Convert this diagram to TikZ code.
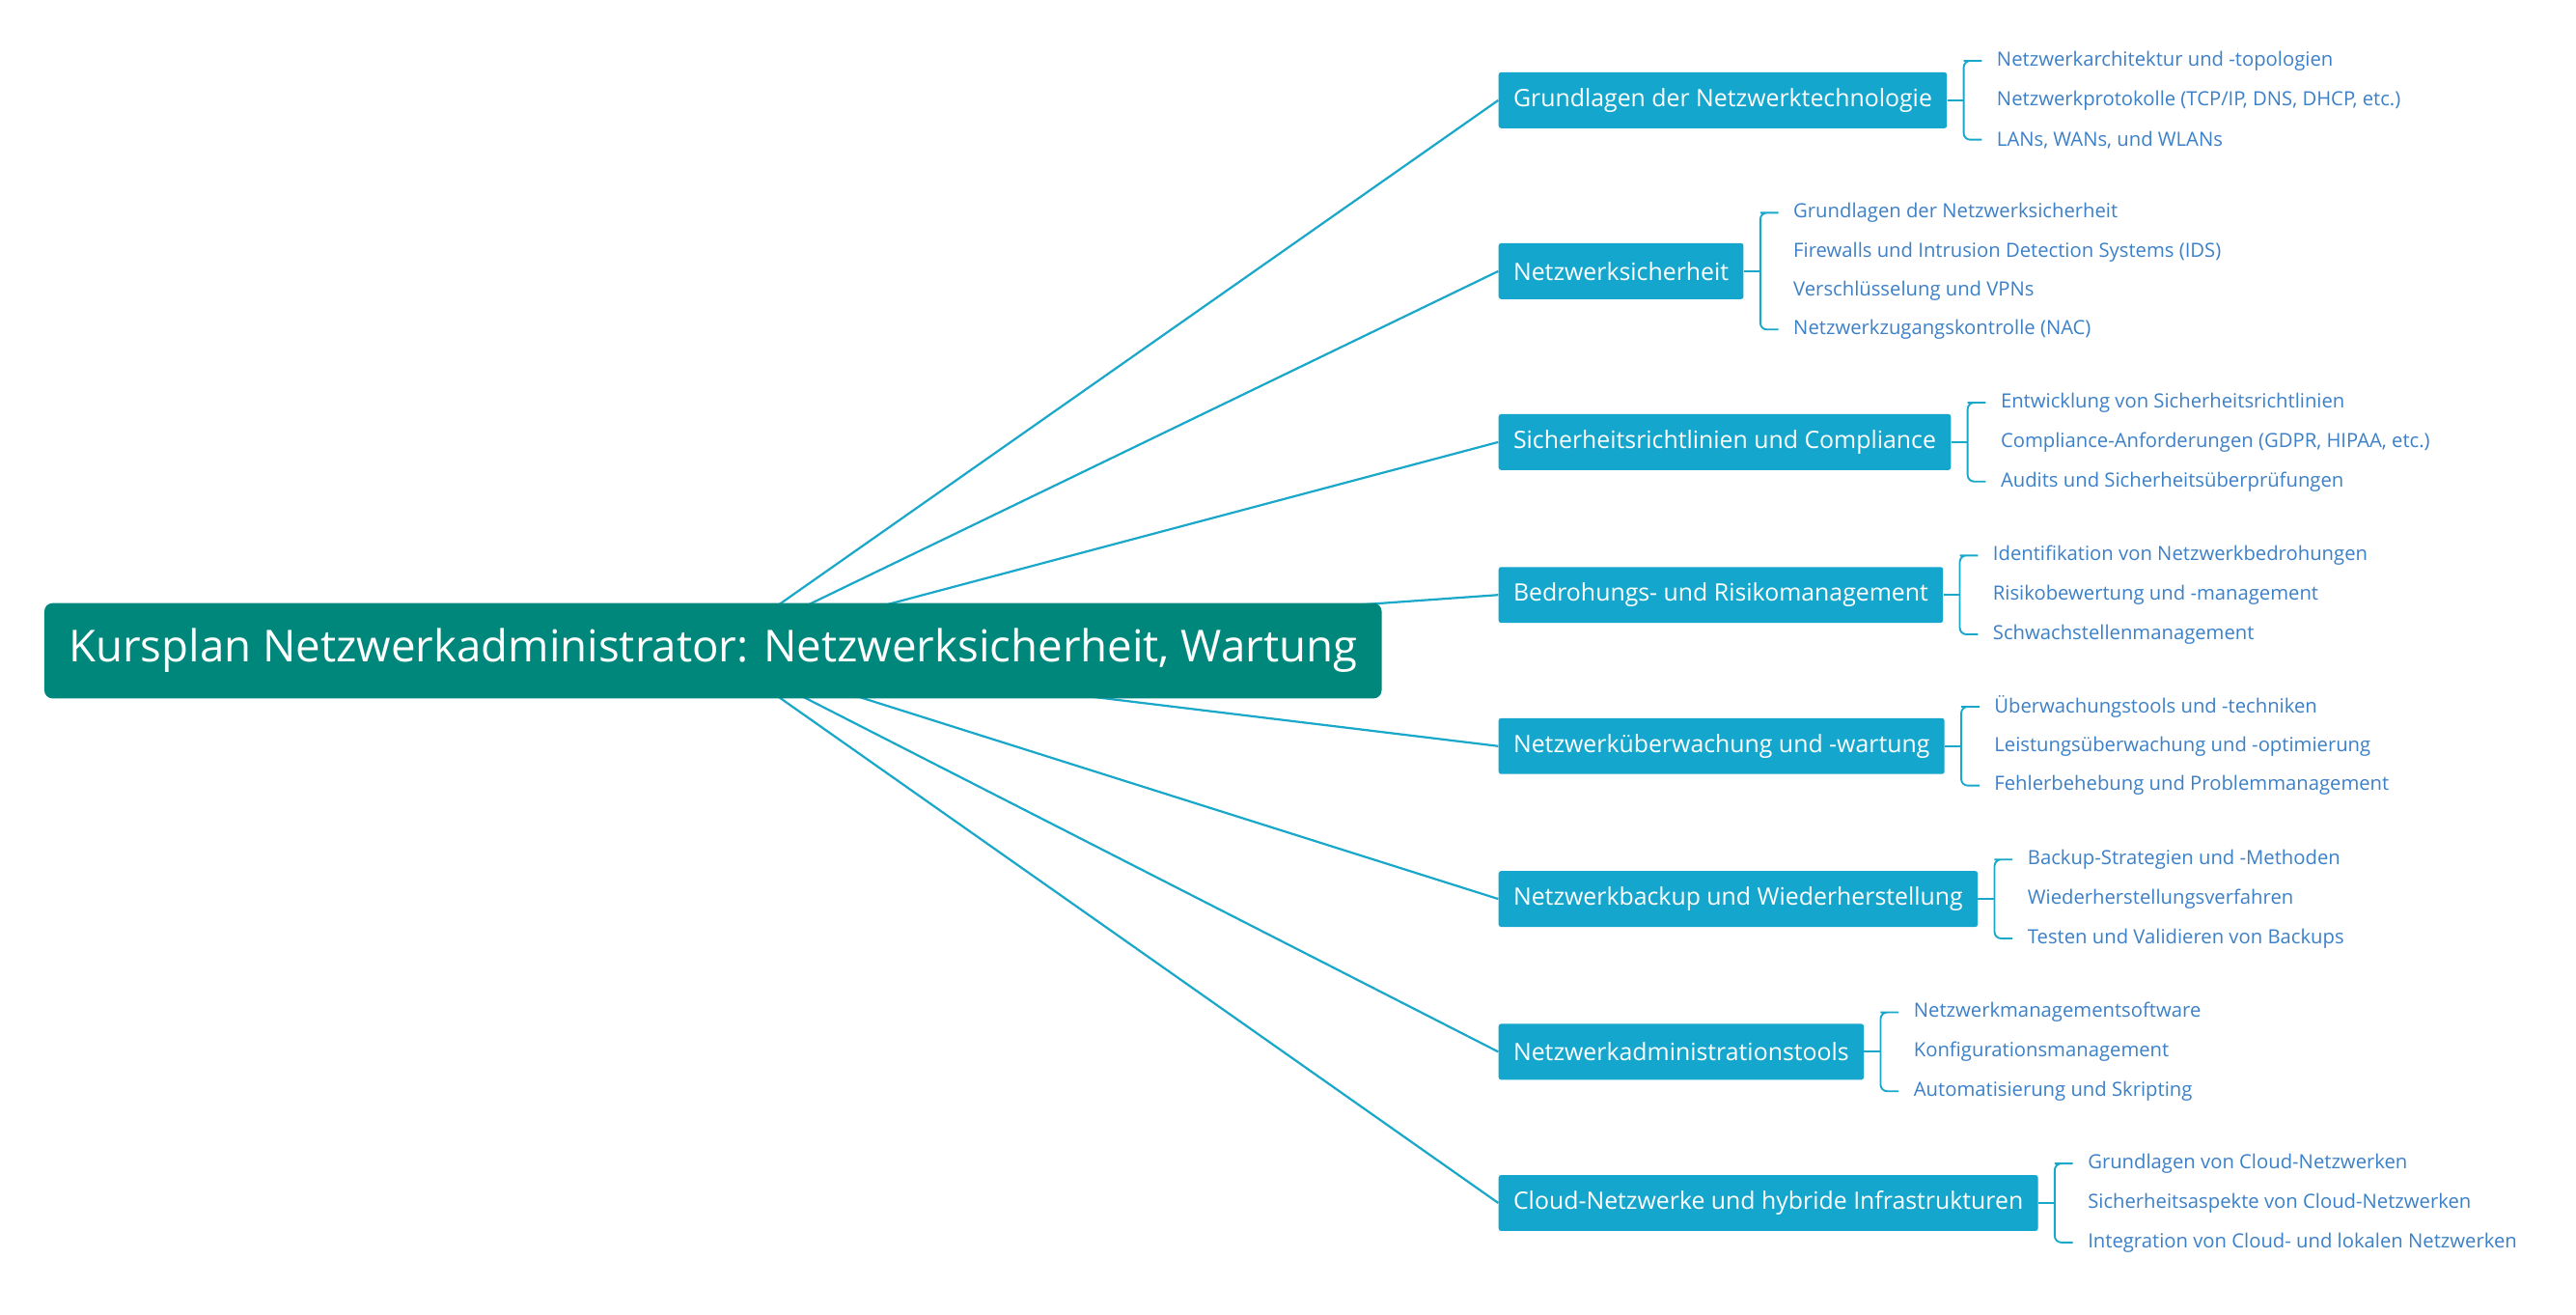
\documentclass[tikz,border=0pt]{standalone}
\usepackage{fontspec}
\setmainfont{Open Sans}
\usetikzlibrary{backgrounds,calc}
\definecolor{rootc}{HTML}{00877C}
\definecolor{brc}{HTML}{14A6CC}
\definecolor{leafc}{HTML}{3C80C8}
\definecolor{linec}{HTML}{19A8C9}
\tikzset{
 rootbox/.style={fill=rootc,text=white,rounded corners=5pt,minimum width=814pt,minimum height=58pt,font=\fontsize{26.8}{30}\selectfont,inner sep=0pt},
 branchbox/.style={fill=brc,text=white,rounded corners=1.5pt,minimum height=34pt,inner xsep=9pt,font=\fontsize{14.6}{17}\selectfont,anchor=west},
 leaftext/.style={text=leafc,font=\fontsize{11.9}{14}\selectfont,anchor=west,inner sep=0pt},
 conn/.style={draw=linec,line width=1.3pt},
 brace/.style={draw=linec,line width=1.1pt,rounded corners=4pt}
}
\newcommand{\leafset}[2]{%
  \foreach \o/\t [count=\i] in {#2}{
    \node[leaftext] (#1l\i) at ($(#1.east)+(30,\o)$) {\t};
  }
}
\newcommand{\bracefor}[3]{%
  \draw[brace] ($(#1.east)+(21,#2)$) -- ($(#1.east)+(14,#2)$) -- ($(#1.east)+(10,#2)$) |- ($(#1.east)+(21,#3)$);
  \draw[brace] (#1.east) -- ($(#1.east)+(10,0)$);
}
\begin{document}
\begin{tikzpicture}[x=1pt,y=-1pt]
\useasboundingbox (0,0) rectangle (1568,800);
\node[rootbox] (root) at (434,396) {Kursplan Netzwerkadministrator: Netzwerksicherheit, Wartung};
\node[branchbox] (b1) at (912,61) {Grundlagen der Netzwerktechnologie};
\node[branchbox] (b2) at (912,165) {Netzwerksicherheit};
\node[branchbox] (b3) at (912,269) {Sicherheitsrichtlinien und Compliance};
\node[branchbox] (b4) at (912,362) {Bedrohungs- und Risikomanagement};
\node[branchbox] (b5) at (912,454) {Netzwerküberwachung und -wartung};
\node[branchbox] (b6) at (912,547) {Netzwerkbackup und Wiederherstellung};
\node[branchbox] (b7) at (912,640) {Netzwerkadministrationstools};
\node[branchbox] (b8) at (912,732) {Cloud-Netzwerke und hybride Infrastrukturen};
\begin{scope}[on background layer]
\fill[white] (0,0) rectangle (1568,800);
\foreach \b in {b1,b2,b3,b4,b5,b6,b7,b8}{\draw[conn] (root.center) -- (\b.west);}
\end{scope}
\leafset{b1}{-24/Netzwerkarchitektur und -topologien,0/{Netzwerkprotokolle (TCP/IP, DNS, DHCP, etc.)},24/{LANs, WANs, und WLANs}}
\leafset{b2}{-35.5/Grundlagen der Netzwerksicherheit,-11.8/Firewalls und Intrusion Detection Systems (IDS),11.8/Verschlüsselung und VPNs,35.5/Netzwerkzugangskontrolle (NAC)}
\leafset{b3}{-24/Entwicklung von Sicherheitsrichtlinien,0/{Compliance-Anforderungen (GDPR, HIPAA, etc.)},24/Audits und Sicherheitsüberprüfungen}
\leafset{b4}{-24/Identifikation von Netzwerkbedrohungen,0/Risikobewertung und -management,24/Schwachstellenmanagement}
\leafset{b5}{-24/Überwachungstools und -techniken,0/Leistungsüberwachung und -optimierung,24/Fehlerbehebung und Problemmanagement}
\leafset{b6}{-24/Backup-Strategien und -Methoden,0/Wiederherstellungsverfahren,24/Testen und Validieren von Backups}
\leafset{b7}{-24/Netzwerkmanagementsoftware,0/Konfigurationsmanagement,24/Automatisierung und Skripting}
\leafset{b8}{-24/Grundlagen von Cloud-Netzwerken,0/Sicherheitsaspekte von Cloud-Netzwerken,24/Integration von Cloud- und lokalen Netzwerken}
\bracefor{b1}{-24}{24}
\bracefor{b2}{-35.5}{35.5}
\bracefor{b3}{-24}{24}
\bracefor{b4}{-24}{24}
\bracefor{b5}{-24}{24}
\bracefor{b6}{-24}{24}
\bracefor{b7}{-24}{24}
\bracefor{b8}{-24}{24}
\end{tikzpicture}
\end{document}
